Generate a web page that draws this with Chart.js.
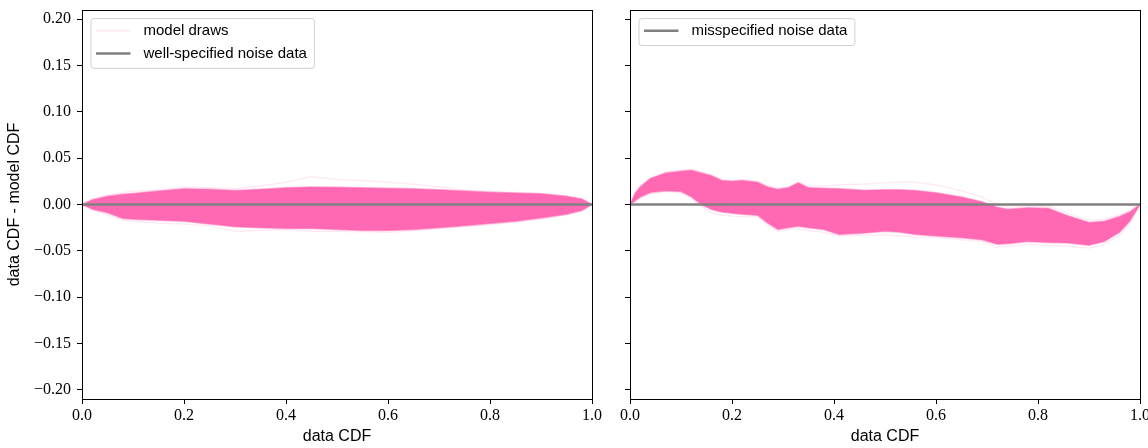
<!DOCTYPE html>
<html>
<head>
<meta charset="utf-8">
<script src="https://cdn.jsdelivr.net/npm/chart.js@4.4.0/dist/chart.umd.min.js"></script>
<style>
html,body{margin:0;padding:0;background:#fff;width:1148px;height:448px;overflow:hidden;}
.wrap{position:absolute;top:0;height:448px;}
canvas{display:block;}
</style>
</head>
<body>
<div class="wrap" style="left:0;width:612px"><canvas id="c1" width="612" height="448"></canvas></div>
<div class="wrap" style="left:612px;width:536px"><canvas id="c2" width="536" height="448"></canvas></div>
<script>
// ---------- data ----------
const xTickValues = [0, 0.2, 0.4, 0.6, 0.8, 1.0];
const xTickLabels = ['0.0', '0.2', '0.4', '0.6', '0.8', '1.0'];
const yTickValues = [-0.20, -0.15, -0.10, -0.05, 0.00, 0.05, 0.10, 0.15, 0.20];
const yTickLabels = ['\u22120.20', '\u22120.15', '\u22120.10', '\u22120.05', '0.00', '0.05', '0.10', '0.15', '0.20'];

const xTitle = 'data CDF';
const yTitle = 'data CDF - model CDF';
const leftNames = ['model draws', 'well-specified noise data'];
const rightNames = ['misspecified noise data'];

// left panel (well-specified): envelope of model draws
const leftX =      [0, 0.02, 0.05, 0.08, 0.10, 0.15, 0.20, 0.25, 0.30, 0.35, 0.40, 0.45, 0.50, 0.55, 0.60, 0.65, 0.70, 0.75, 0.80, 0.85, 0.90, 0.95, 0.98, 1.0];
const leftUpper =  [0, 0.005, 0.009, 0.011, 0.012, 0.0145, 0.017, 0.0165, 0.015, 0.0165, 0.018, 0.019, 0.0185, 0.018, 0.0175, 0.017, 0.0158, 0.0145, 0.0132, 0.0125, 0.0115, 0.009, 0.006, 0];
const leftLower =  [0, -0.005, -0.009, -0.015, -0.016, -0.017, -0.018, -0.021, -0.024, -0.025, -0.026, -0.026, -0.027, -0.028, -0.028, -0.027, -0.025, -0.023, -0.0205, -0.018, -0.0145, -0.0105, -0.0065, 0];
const leftFaintUp = [0, 0.006, 0.010, 0.013, 0.014, 0.016, 0.019, 0.018, 0.017, 0.020, 0.024, 0.030, 0.027, 0.026, 0.024, 0.022, 0.019, 0.016, 0.014, 0.013, 0.012, 0.009, 0.006, 0];
const leftFaintLo = [0, -0.006, -0.011, -0.017, -0.018, -0.020, -0.021, -0.023, -0.029, -0.028, -0.027, -0.029, -0.029, -0.0295, -0.030, -0.028, -0.026, -0.024, -0.022, -0.019, -0.016, -0.011, -0.007, 0];

// right panel (misspecified): envelope of model draws
const rightX =      [0, 0.01, 0.02, 0.04, 0.07, 0.10, 0.12, 0.14, 0.16, 0.18, 0.20, 0.22, 0.25, 0.27, 0.29, 0.31, 0.33, 0.35, 0.38, 0.41, 0.46, 0.50, 0.53, 0.56, 0.60, 0.65, 0.69, 0.72, 0.74, 0.78, 0.82, 0.86, 0.90, 0.93, 0.96, 0.98, 1.0];
const rightUpper =  [0, 0.012, 0.019, 0.028, 0.034, 0.036, 0.037, 0.034, 0.031, 0.026, 0.025, 0.026, 0.024, 0.019, 0.0165, 0.018, 0.0235, 0.018, 0.0175, 0.017, 0.0155, 0.016, 0.0158, 0.015, 0.0128, 0.008, 0.003, -0.003, -0.005, -0.0035, -0.004, -0.0125, -0.0195, -0.018, -0.013, -0.008, 0];
const rightLower =  [0, 0.004, 0.008, 0.013, 0.0148, 0.014, 0.0085, 0.0, -0.0055, -0.008, -0.0095, -0.0105, -0.0115, -0.020, -0.027, -0.025, -0.0234, -0.025, -0.027, -0.0325, -0.0307, -0.029, -0.030, -0.0325, -0.034, -0.036, -0.038, -0.043, -0.0425, -0.040, -0.041, -0.0415, -0.044, -0.040, -0.030, -0.018, 0];
const rightFaintUp = [0, 0.013, 0.020, 0.029, 0.035, 0.037, 0.038, 0.035, 0.032, 0.027, 0.026, 0.027, 0.025, 0.020, 0.018, 0.019, 0.024, 0.020, 0.020, 0.021, 0.022, 0.0235, 0.024, 0.024, 0.021, 0.015, 0.008, 0.0, -0.003, -0.002, -0.002, -0.010, -0.017, -0.016, -0.011, -0.007, 0];
const rightFaintLo = [0, 0.003, 0.007, 0.012, 0.014, 0.013, 0.007, -0.002, -0.009, -0.011, -0.0125, -0.013, -0.013, -0.022, -0.029, -0.027, -0.026, -0.028, -0.030, -0.034, -0.033, -0.033, -0.034, -0.035, -0.036, -0.038, -0.040, -0.046, -0.045, -0.043, -0.044, -0.045, -0.047, -0.043, -0.033, -0.020, 0];

// observed data line (data CDF - data CDF)
const zeroX = [0, 1];
const zeroY = [0, 0];

// ---------- styling ----------
const PINK = '#ff69b4';
const PINK_EDGE = 'rgba(255,105,180,0.55)';
const PINK_FAINT = 'rgba(255,105,180,0.14)';
const GRAY = '#808080';
const SERIF = "'Liberation Serif', serif";
const SANS = "'Liberation Sans', sans-serif";

const pts = (xs, ys) => xs.map((x, i) => ({x: x, y: ys[i]}));

function buildDatasets(xs, up, lo, fUp, fLo, names) {
  const hasDraws = names.length > 1;
  return [
    {label: names[names.length - 1], data: pts(zeroX, zeroY), borderColor: GRAY, borderWidth: 2.6, order: 0, inLegend: true},
    {label: 'band upper', data: pts(xs, up), borderColor: PINK_EDGE, borderWidth: 1.5, backgroundColor: PINK, fill: '+1', order: 1},
    {label: 'band lower', data: pts(xs, lo), borderColor: PINK_EDGE, borderWidth: 1.5, fill: false, order: 1},
    {label: hasDraws ? names[0] : 'draw', data: pts(xs, fUp), borderColor: PINK_FAINT, borderWidth: 1.5, order: 2, inLegend: hasDraws, legendOrder: 0},
    {label: 'draw lower', data: pts(xs, fLo), borderColor: PINK_FAINT, borderWidth: 1.5, order: 2}
  ];
}

const framePlugin = {
  id: 'frame',
  afterDatasetsDraw(chart) {
    const a = chart.chartArea, ctx = chart.ctx;
    ctx.save();
    ctx.strokeStyle = '#000';
    ctx.lineWidth = 1;
    const l = Math.floor(a.left) + 0.5, r = Math.floor(a.right) + 0.5;
    const t = Math.floor(a.top) + 0.5, b = Math.floor(a.bottom) + 0.5;
    ctx.strokeRect(l, t, r - l, b - t);
    ctx.restore();
  }
};

const legendPlugin = {
  id: 'insideLegend',
  afterDraw(chart) {
    const items = chart.data.datasets.filter(d => d.inLegend)
      .sort((p, q) => (p.legendOrder ?? 1) - (q.legendOrder ?? 1));
    if (!items.length) return;
    const a = chart.chartArea, ctx = chart.ctx;
    ctx.save();
    ctx.font = '15px ' + SANS;
    const tw = Math.max(...items.map(d => ctx.measureText(d.label).width));
    const rowH = 22.7;
    const cy0 = a.top + 20.8;
    const bx = a.left + 9, by = cy0 - 12.2;
    const bw = 52.5 + tw + 7.5;
    const bh = 12.2 + (items.length - 1) * rowH + 14.8;
    const rad = 3;
    ctx.beginPath();
    ctx.moveTo(bx + rad, by);
    ctx.arcTo(bx + bw, by, bx + bw, by + bh, rad);
    ctx.arcTo(bx + bw, by + bh, bx, by + bh, rad);
    ctx.arcTo(bx, by + bh, bx, by, rad);
    ctx.arcTo(bx, by, bx + bw, by, rad);
    ctx.closePath();
    ctx.fillStyle = 'rgba(255,255,255,0.8)';
    ctx.fill();
    ctx.strokeStyle = '#d0d0d0';
    ctx.lineWidth = 1;
    ctx.stroke();
    items.forEach((d, i) => {
      const cy = cy0 + i * rowH;
      ctx.beginPath();
      ctx.moveTo(a.left + 14, cy);
      ctx.lineTo(a.left + 48.5, cy);
      ctx.strokeStyle = d.borderColor;
      ctx.lineWidth = d.inLegend && d.borderColor === PINK_FAINT ? 2 : d.borderWidth;
      ctx.stroke();
      ctx.fillStyle = '#000';
      ctx.textBaseline = 'middle';
      ctx.textAlign = 'left';
      ctx.fillText(d.label, a.left + 61.5, cy + 0.5);
    });
    ctx.restore();
  }
};

function makeChart(id, datasets, yAxisWidth, padRight, showYLabels) {
  return new Chart(document.getElementById(id), {
    type: 'line',
    data: {datasets: datasets},
    plugins: [framePlugin, legendPlugin],
    options: {
      responsive: false,
      animation: false,
      devicePixelRatio: 1,
      layout: {padding: {top: 10, right: padRight, bottom: 0, left: 0}},
      elements: {point: {radius: 0, hoverRadius: 0}, line: {tension: 0}},
      plugins: {legend: {display: false}, tooltip: {enabled: false}},
      events: [],
      scales: {
        x: {
          type: 'linear', min: 0, max: 1,
          afterBuildTicks: s => { s.ticks = xTickValues.map(v => ({value: v})); },
          afterFit: s => { s.height = 49; s.paddingLeft = 0; s.paddingRight = 0; },
          ticks: {
            callback: (v, i) => xTickLabels[i],
            font: {family: SERIF, size: 16}, color: '#000', padding: 2,
            maxRotation: 0, minRotation: 0, autoSkip: false
          },
          grid: {drawOnChartArea: false, color: '#000', tickLength: 5, lineWidth: 1},
          border: {display: false},
          title: {display: true, text: xTitle, font: {family: SANS, size: 16}, color: '#000', padding: {top: 0, bottom: 2}}
        },
        y: {
          type: 'linear', min: -0.21, max: 0.21,
          afterBuildTicks: s => { s.ticks = yTickValues.map(v => ({value: v})); },
          afterFit: s => { s.width = yAxisWidth; s.paddingTop = 0; s.paddingBottom = 0; },
          ticks: {
            callback: (v, i) => showYLabels ? yTickLabels[i] : '',
            font: {family: SERIF, size: 16}, color: '#000', padding: 6, autoSkip: false
          },
          grid: {drawOnChartArea: false, color: '#000', tickLength: 5, lineWidth: 1},
          border: {display: false},
          title: {display: showYLabels, text: yTitle, font: {family: SANS, size: 16}, color: '#000', padding: {top: 4.5, bottom: 0}}
        }
      }
    }
  });
}

makeChart('c1', buildDatasets(leftX, leftUpper, leftLower, leftFaintUp, leftFaintLo, leftNames), 82, 20, true);
makeChart('c2', buildDatasets(rightX, rightUpper, rightLower, rightFaintUp, rightFaintLo, rightNames), 18, 8, false);
</script>
</body>
</html>
